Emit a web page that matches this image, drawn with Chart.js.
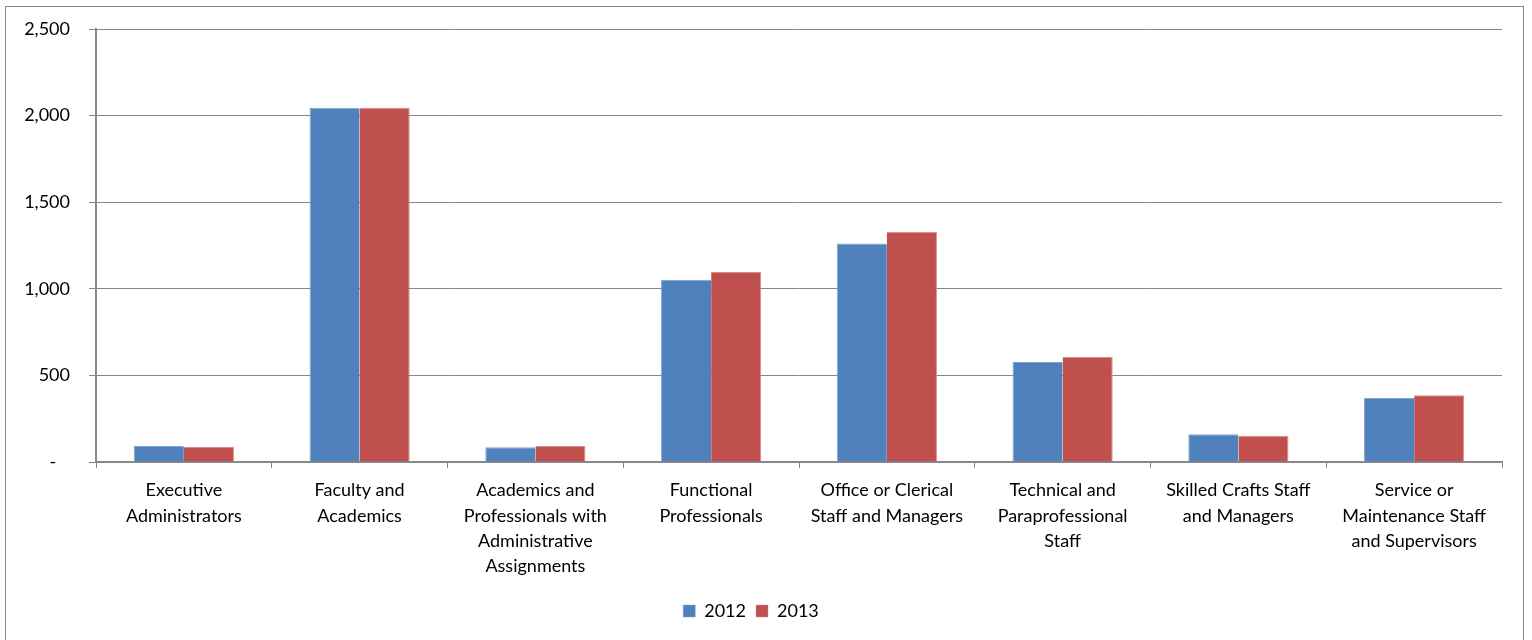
<!DOCTYPE html>
<html lang="en">
<head>
  <meta charset="UTF-8" />
  <title>Staff by Category</title>
  <script src="https://cdn.jsdelivr.net/npm/chart.js"></script>
  <style>
    body { margin: 0; background: #fff; }
    .frame {
      position: absolute; left: 5px; top: 6px;
      width: 1517px; height: 660px;
      border: 1px solid #888;
    }
    .wrap { position: absolute; left: 0; top: 0; width: 1532px; height: 640px; }
  </style>
</head>
<body>
  <div class="frame"></div>
  <div class="wrap"><canvas id="chart"></canvas></div>
  <script>
    // categories (each label split into its printed lines)
    const categories = [
      ['Executive', 'Administrators'],
      ['Faculty and', 'Academics'],
      ['Academics and', 'Professionals with', 'Administrative', 'Assignments'],
      ['Functional', 'Professionals'],
      ['Office or Clerical', 'Staff and Managers'],
      ['Technical and', 'Paraprofessional', 'Staff'],
      ['Skilled Crafts Staff', 'and Managers'],
      ['Service or', 'Maintenance Staff', 'and Supervisors']
    ];
    const values2012 = [92, 2046, 85, 1052, 1262, 578, 160, 370];
    const values2013 = [88, 2046, 92, 1097, 1329, 607, 151, 385];
    const yTicks = [0, 500, 1000, 1500, 2000, 2500];

    const font = { family: 'Lato, "Open Sans", sans-serif', size: 18, lineHeight: 1.4 };
    const yFont = { family: 'Lato, "Open Sans", sans-serif', size: 18, lineHeight: 1.0 };

    new Chart(document.getElementById('chart'), {
      type: 'bar',
      data: {
        labels: categories,
        datasets: [
          { label: '2012', data: values2012, backgroundColor: '#4F81BD',
            borderColor: '#7FA3D0', borderWidth: { top: 1, left: 1, right: 0, bottom: 0 } },
          { label: '2013', data: values2013, backgroundColor: '#C0504D',
            borderColor: '#DA8C8A', borderWidth: { top: 1, right: 1, left: 0, bottom: 0 } }
        ]
      },
      options: {
        responsive: true,
        maintainAspectRatio: false,
        animation: false,
        categoryPercentage: 0.57,
        barPercentage: 1.0,
        layout: { padding: { top: 29, right: 30, bottom: 10, left: 0 } },
        plugins: {
          tooltip: { enabled: false },
          legend: {
            position: 'bottom',
            labels: { font, color: '#000', boxWidth: 12, boxHeight: 12, padding: 10 }
          }
        },
        scales: {
          x: {
            grid: { drawOnChartArea: false, drawTicks: true, tickLength: 6, color: '#888', lineWidth: 1 },
            border: { color: '#888', width: 2 },
            ticks: { font, color: '#000', padding: 10, maxRotation: 0, autoSkip: false },
            afterFit: s => { s.height = 130; }
          },
          y: {
            min: 0, max: 2500,
            afterBuildTicks: s => { s.ticks = yTicks.map(v => ({ value: v })); },
            grid: { color: '#888', lineWidth: 1, tickLength: 7 },
            border: { color: '#888', width: 2 },
            ticks: {
              font: yFont, color: '#000', padding: 19,
              callback: v => v === 0 ? '-   ' : v.toLocaleString('en-US')
            },
            afterFit: s => { s.width = 96; }
          }
        }
      }
    });
  </script>
</body>
</html>
